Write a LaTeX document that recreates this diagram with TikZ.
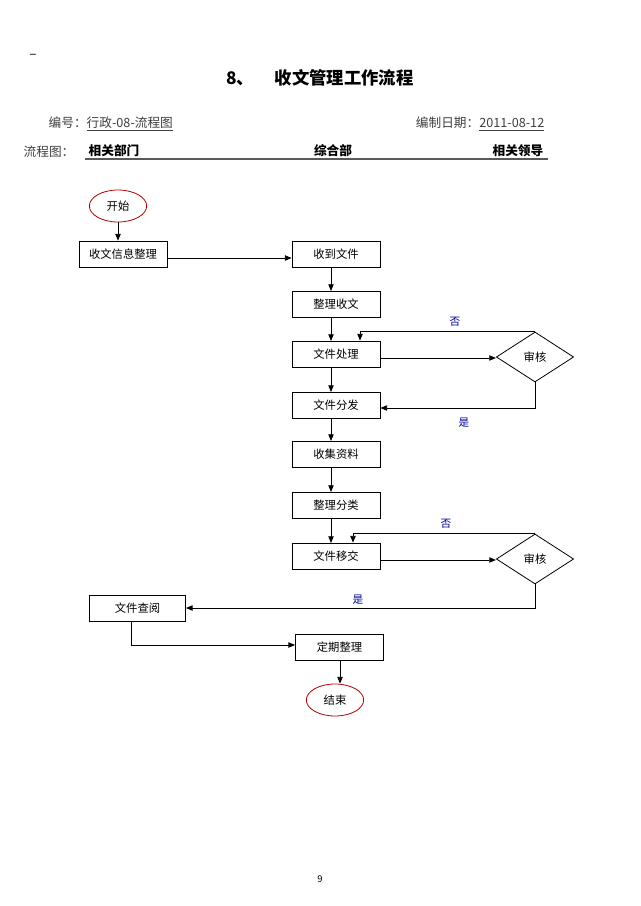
\documentclass[tikz,border=0pt]{standalone}
\usepackage{fontspec}
\newfontfamily\cjk{Noto Sans CJK SC}
\usetikzlibrary{arrows.meta,shapes.geometric}
\begin{document}
\begin{tikzpicture}[x=0.75pt,y=-0.75pt,
  font=\cjk\fontsize{8.5}{10}\selectfont,
  box/.style={draw,line width=0.6pt,minimum width=66pt,minimum height=19.5pt,inner sep=0pt},
  term/.style={draw=red!70!black,ellipse,line width=0.6pt,minimum width=43pt,minimum height=24pt,inner sep=0pt},
  dec/.style={draw,diamond,aspect=1.55,line width=0.6pt,minimum width=58pt,minimum height=37.5pt,inner sep=0pt},
  conn/.style={line width=0.6pt,-{Triangle[length=5pt,width=4pt]}},
  lbl/.style={text=blue!60!black,font=\cjk\fontsize{8}{10}\selectfont}]
\useasboundingbox (0,0) rectangle (640,906);
\fill[white] (0,0) rectangle (640,906);
% header
\node[font=\cjk\fontsize{10}{12}\selectfont] (dash) at (33,56) {–};
\node[font=\cjk\bfseries\fontsize{13}{15}\selectfont] (title) at (320,78) {8、\hspace{1.2em}收文管理工作流程};
\node[anchor=west,font=\cjk\fontsize{9.5}{11}\selectfont,text=black!75] (code) at (44,124) {编号：\underline{行政-08-流程图}};
\node[anchor=east,font=\cjk\fontsize{9.5}{11}\selectfont,text=black!75] (date) at (549,124) {编制日期：\underline{2011-08-12}};
\node[anchor=west,font=\cjk\fontsize{9.5}{11}\selectfont,text=black!75] (lc) at (19,152) {流程图：};
\node[anchor=west,font=\cjk\bfseries\fontsize{9.5}{11}\selectfont] (d1) at (84,151) {相关部门};
\node[font=\cjk\bfseries\fontsize{9.5}{11}\selectfont] (d2) at (333,151) {综合部};
\node[anchor=east,font=\cjk\bfseries\fontsize{9.5}{11}\selectfont] (d3) at (548,151) {相关领导};
\coordinate (ul1) at (85,159);
\coordinate (ul2) at (548,159);
\draw[line width=1.3pt,black!65] (ul1) -- (ul2);
% nodes
\node[term] (start) at (118,206) {开始};
\node[box] (a1) at (123,254) {收文信息整理};
\node[box] (b1) at (336,254) {收到文件};
\node[box] (b2) at (336,304) {整理收文};
\node[box] (b3) at (336,354) {文件处理};
\node[box] (b4) at (336,405) {文件分发};
\node[box] (b5) at (336,454) {收集资料};
\node[box] (b6) at (336,505) {整理分类};
\node[box] (b7) at (336,556) {文件移交};
\node[box,minimum width=72pt] (a2) at (137.5,608.5) {文件查阅};
\node[box] (b8) at (339.5,647) {定期整理};
\node[term] (end) at (335,700) {结束};
\node[dec] (d1x) at (535,357) {审核};
\node[dec] (d2x) at (535,559) {审核};
% connectors
\draw[conn] (start.south) -- (start.south |- a1.north);
\draw[conn] (a1.east |- 0,258) -- (b1.west |- 0,258);
\draw[conn] (331,267) -- (331,291);
\draw[conn] (331,317) -- (331,341);
\draw[conn] (331,367) -- (331,392);
\draw[conn] (331,418) -- (331,441);
\draw[conn] (331,467) -- (331,492);
\draw[conn] (331,518) -- (331,543);
\draw[conn] (b3.east |- 0,358) -- (d1x.west |- 0,358);
\draw[conn] (d1x.north) -- (360,0 |- d1x.north) -- (360,0 |- b3.north);
\draw[conn] (d1x.south) -- (535,408) -- (b4.east |- 0,408);
\draw[conn] (b7.east |- 0,560) -- (d2x.west |- 0,560);
\draw[conn] (d2x.north) -- (353,0 |- d2x.north) -- (353,0 |- b7.north);
\draw[conn] (d2x.south) -- (535,608) -- (a2.east |- 0,608);
\draw[conn] (131,0 |- a2.south) -- (131,645) -- (b8.west |- 0,645);
\draw[conn] (340,0 |- b8.south) -- (340,0 |- end.north);
% labels
\node[lbl] (n1) at (455,322) {否};
\node[lbl] (y1) at (464,423) {是};
\node[lbl] (n2) at (446,524) {否};
\node[lbl] (y2) at (358,600) {是};
\node[font=\cjk\fontsize{7}{8}\selectfont] (pg) at (320,879) {9};
\end{tikzpicture}
\end{document}
